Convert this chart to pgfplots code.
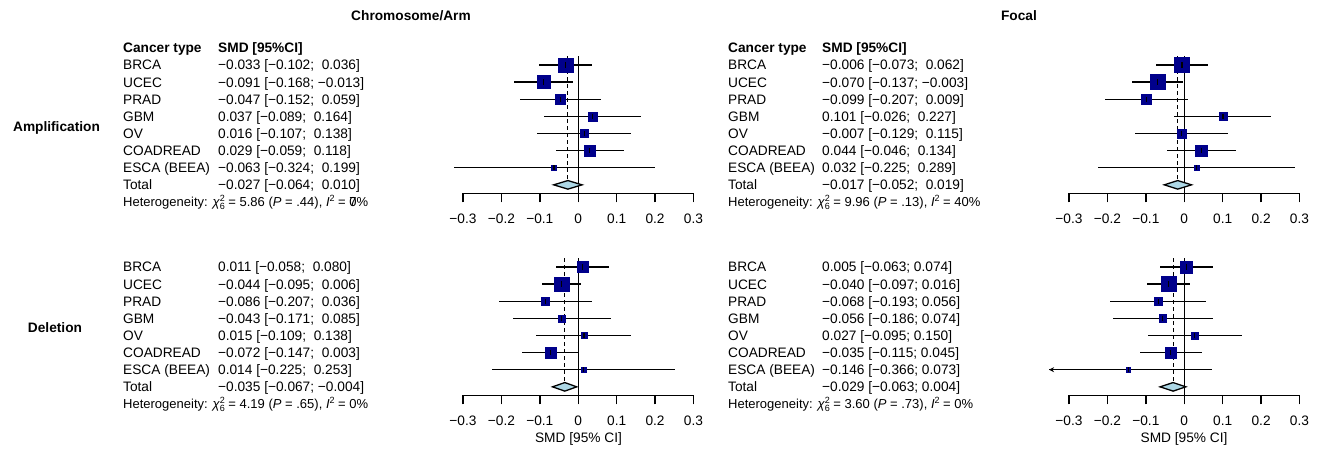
\documentclass[border=0pt]{standalone}
\usepackage{pgfplots}
\pgfplotsset{compat=1.18}
\usepackage{pgfplotstable}
\usepackage{fontspec}
\setmainfont{Liberation Sans}
\usetikzlibrary{arrows.meta}

\definecolor{sqblue}{HTML}{00008B}
\definecolor{diamondfill}{HTML}{ADD8E6}

\newcommand{\mainsize}{\fontsize{13.7bp}{16bp}\selectfont}
\newcommand{\hetsize}{\fontsize{13bp}{15bp}\selectfont}
\newcommand{\supsize}{\fontsize{9bp}{10bp}\selectfont}
\newcommand{\chisq}[1]{\textit{χ}\rlap{\raisebox{0.8ex}{\supsize 2}}\raisebox{-0.45ex}{\supsize #1}}
\newcommand{\isq}{\textit{I}\raisebox{0.8ex}{\supsize 2}}

% Study rows: y position, SMD, 95% CI, half side of the weight square (bp)
\pgfplotstableread{
row est lo hi s
-1 -0.033 -0.102 0.036 7.2
-2 -0.091 -0.168 -0.013 6.5
-3 -0.047 -0.152 0.059 5.2
-4 0.037 -0.089 0.164 4.4
-5 0.016 -0.107 0.138 4.2
-6 0.029 -0.059 0.118 5.7
-7 -0.063 -0.324 0.199 2.4
}\armAmp
\pgfplotstableread{
row est lo hi s
-1 -0.006 -0.073 0.062 7.5
-2 -0.070 -0.137 -0.003 7.5
-3 -0.099 -0.207 0.009 5.0
-4 0.101 -0.026 0.227 4.2
-5 -0.007 -0.129 0.115 4.4
-6 0.044 -0.046 0.134 5.7
-7 0.032 -0.225 0.289 2.5
}\focalAmp
\pgfplotstableread{
row est lo hi s
-1 0.011 -0.058 0.080 5.7
-2 -0.044 -0.095 0.006 7.4
-3 -0.086 -0.207 0.036 3.9
-4 -0.043 -0.171 0.085 3.5
-5 0.015 -0.109 0.138 3.2
-6 -0.072 -0.147 0.003 5.4
-7 0.014 -0.225 0.253 2.2
}\armDel
\pgfplotstableread{
row est lo hi s
-1 0.005 -0.063 0.074 6.2
-2 -0.040 -0.097 0.016 7.5
-3 -0.068 -0.193 0.056 4.0
-4 -0.056 -0.186 0.074 3.7
-5 0.027 -0.095 0.150 3.5
-6 -0.035 -0.115 0.045 5.5
-7 -0.146 -0.366 0.073 2.4
}\focalDel

\pgfplotsset{
  forest/.style={
    scale only axis, width=230.5bp, height=137bp,
    xmin=-0.3, xmax=0.3, ymin=-8.5, ymax=-0.5,
    axis x line=bottom, axis y line=none,
    axis line style={line width=1.4bp, -},
    xtick={-0.3,-0.2,-0.1,0,0.1,0.2,0.3},
    xticklabels={−0.3,−0.2,−0.1,0,0.1,0.2,0.3},
    tick align=outside, major tick length=9bp,
    tick style={line width=1.4bp, black},
    xticklabel style={font=\mainsize, yshift=-8bp},
    clip=false, anchor=south west,
  },
}

% One forest panel: study table, pooled estimate and its CI
\newcommand{\forestplots}[4]{%
  \addplot[black, line width=1.1bp, dash pattern=on 4bp off 3bp] coordinates {(#2,-0.5) (#2,-8)};
  \addplot[black, line width=1.4bp] coordinates {(0,-0.5) (0,-8.5)};
  \addplot[scatter, only marks, mark=square*,
    scatter/use mapped color={draw=sqblue, fill=sqblue},
    mark options={line width=0.4bp},
    visualization depends on={\thisrow{s} \as \sqsize},
    scatter/@pre marker code/.append style={/tikz/mark size=\sqsize}]
    table[x=est, y=row] {#1};
  \addplot[only marks, mark=|, mark size=2.6bp, mark options={line width=1.2bp, black},
    error bars/.cd, x dir=both, x explicit, error mark=none,
    error bar style={line width=1.3bp, black}]
    table[x=est, y=row,
      x error plus expr=\thisrow{hi}-\thisrow{est},
      x error minus expr={min(\thisrow{est}-\thisrow{lo}, \thisrow{est}+0.352)}] {#1};
  \addplot[draw=black, fill=diamondfill, line width=1.3bp]
    coordinates {(#3,-8) (#2,-7.75) (#4,-8) (#2,-8.25)} -- cycle;
}

\begin{document}
\begin{tikzpicture}
\useasboundingbox (0,0) rectangle (1322bp,-450bp);

% panel titles and row labels
\node[anchor=base, font=\mainsize\bfseries, inner sep=0pt] at (411bp,-20.9bp) {Chromosome/Arm};
\node[anchor=base, font=\mainsize\bfseries, inner sep=0pt] at (1019bp,-20.9bp) {Focal};
\node[anchor=base, font=\mainsize\bfseries, inner sep=0pt] at (56.5bp,-131bp) {Amplification};
\node[anchor=base, font=\mainsize\bfseries, inner sep=0pt] at (55bp,-332bp) {Deletion};

% headers
\node[anchor=base west, font=\mainsize\bfseries, inner sep=0pt] at (123bp,-52.8bp) {Cancer type};
\node[anchor=base west, font=\mainsize\bfseries, inner sep=0pt] at (218bp,-52.8bp) {SMD [95\%CI]};
\node[anchor=base west, font=\mainsize\bfseries, inner sep=0pt] at (728bp,-52.8bp) {Cancer type};
\node[anchor=base west, font=\mainsize\bfseries, inner sep=0pt] at (822bp,-52.8bp) {SMD [95\%CI]};

% study rows, Chromosome/Arm amplification
\foreach \n/\v [count=\i from 0] in {
  BRCA/{−0.033 [−0.102;\ \ 0.036]},
  UCEC/{−0.091 [−0.168; −0.013]},
  PRAD/{−0.047 [−0.152;\ \ 0.059]},
  GBM/{0.037 [−0.089;\ \ 0.164]},
  OV/{0.016 [−0.107;\ \ 0.138]},
  COADREAD/{0.029 [−0.059;\ \ 0.118]},
  ESCA (BEEA)/{−0.063 [−0.324;\ \ 0.199]},
  Total/{−0.027 [−0.064;\ \ 0.010]}}{
  \node[anchor=base west, font=\mainsize, inner sep=0pt] at (123bp,{-69.9bp-\i*17.125bp}) {\n};
  \node[anchor=base west, font=\mainsize, inner sep=0pt] at (218bp,{-69.9bp-\i*17.125bp}) {\v};
}
\node[anchor=base west, font=\hetsize, inner sep=0pt] at (123bp,-206.6bp)
  {Heterogeneity: \chisq{6} = 5.86 (\textit{P} = .44), \isq{} = \rlap{7}0\%};

% study rows, Focal amplification
\foreach \n/\v [count=\i from 0] in {
  BRCA/{−0.006 [−0.073;\ \ 0.062]},
  UCEC/{−0.070 [−0.137; −0.003]},
  PRAD/{−0.099 [−0.207;\ \ 0.009]},
  GBM/{0.101 [−0.026;\ \ 0.227]},
  OV/{−0.007 [−0.129;\ \ 0.115]},
  COADREAD/{0.044 [−0.046;\ \ 0.134]},
  ESCA (BEEA)/{0.032 [−0.225;\ \ 0.289]},
  Total/{−0.017 [−0.052;\ \ 0.019]}}{
  \node[anchor=base west, font=\mainsize, inner sep=0pt] at (728bp,{-69.9bp-\i*17.125bp}) {\n};
  \node[anchor=base west, font=\mainsize, inner sep=0pt] at (822bp,{-69.9bp-\i*17.125bp}) {\v};
}
\node[anchor=base west, font=\hetsize, inner sep=0pt] at (728bp,-206.6bp)
  {Heterogeneity: \chisq{6} = 9.96 (\textit{P} = .13), \isq{} = 40\%};

% study rows, Chromosome/Arm deletion
\foreach \n/\v [count=\i from 0] in {
  BRCA/{0.011 [−0.058;\ \ 0.080]},
  UCEC/{−0.044 [−0.095;\ \ 0.006]},
  PRAD/{−0.086 [−0.207;\ \ 0.036]},
  GBM/{−0.043 [−0.171;\ \ 0.085]},
  OV/{0.015 [−0.109;\ \ 0.138]},
  COADREAD/{−0.072 [−0.147;\ \ 0.003]},
  ESCA (BEEA)/{0.014 [−0.225;\ \ 0.253]},
  Total/{−0.035 [−0.067; −0.004]}}{
  \node[anchor=base west, font=\mainsize, inner sep=0pt] at (123bp,{-271.9bp-\i*17.125bp}) {\n};
  \node[anchor=base west, font=\mainsize, inner sep=0pt] at (218bp,{-271.9bp-\i*17.125bp}) {\v};
}
\node[anchor=base west, font=\hetsize, inner sep=0pt] at (123bp,-408.6bp)
  {Heterogeneity: \chisq{6} = 4.19 (\textit{P} = .65), \isq{} = 0\%};

% study rows, Focal deletion
\foreach \n/\v [count=\i from 0] in {
  BRCA/{0.005 [−0.063; 0.074]},
  UCEC/{−0.040 [−0.097; 0.016]},
  PRAD/{−0.068 [−0.193; 0.056]},
  GBM/{−0.056 [−0.186; 0.074]},
  OV/{0.027 [−0.095; 0.150]},
  COADREAD/{−0.035 [−0.115; 0.045]},
  ESCA (BEEA)/{−0.146 [−0.366; 0.073]},
  Total/{−0.029 [−0.063; 0.004]}}{
  \node[anchor=base west, font=\mainsize, inner sep=0pt] at (728bp,{-271.9bp-\i*17.125bp}) {\n};
  \node[anchor=base west, font=\mainsize, inner sep=0pt] at (822bp,{-271.9bp-\i*17.125bp}) {\v};
}
\node[anchor=base west, font=\hetsize, inner sep=0pt] at (728bp,-408.6bp)
  {Heterogeneity: \chisq{6} = 3.60 (\textit{P} = .73), \isq{} = 0\%};

% forest panels
\begin{axis}[forest, at={(463bp,-193.4bp)}]
  \forestplots{\armAmp}{-0.027}{-0.064}{0.010}
\end{axis}
\begin{axis}[forest, at={(1069bp,-193.4bp)}]
  \forestplots{\focalAmp}{-0.017}{-0.052}{0.019}
\end{axis}
\begin{axis}[forest, at={(463bp,-395.4bp)}]
  \forestplots{\armDel}{-0.035}{-0.067}{-0.004}
\end{axis}
\begin{axis}[forest, at={(1069bp,-395.4bp)}]
  \forestplots{\focalDel}{-0.029}{-0.063}{0.004}
  % CI running past the plotted range
  \addplot[black, line width=1.3bp, -{Stealth[length=5bp, width=5bp]}]
    coordinates {(-0.32,-7) (-0.352,-7)};
\end{axis}

% axis titles
\node[anchor=base, font=\mainsize, inner sep=0pt] at (578.5bp,-442.6bp) {SMD [95\% CI]};
\node[anchor=base, font=\mainsize, inner sep=0pt] at (1184bp,-442.6bp) {SMD [95\% CI]};
\end{tikzpicture}
\end{document}
